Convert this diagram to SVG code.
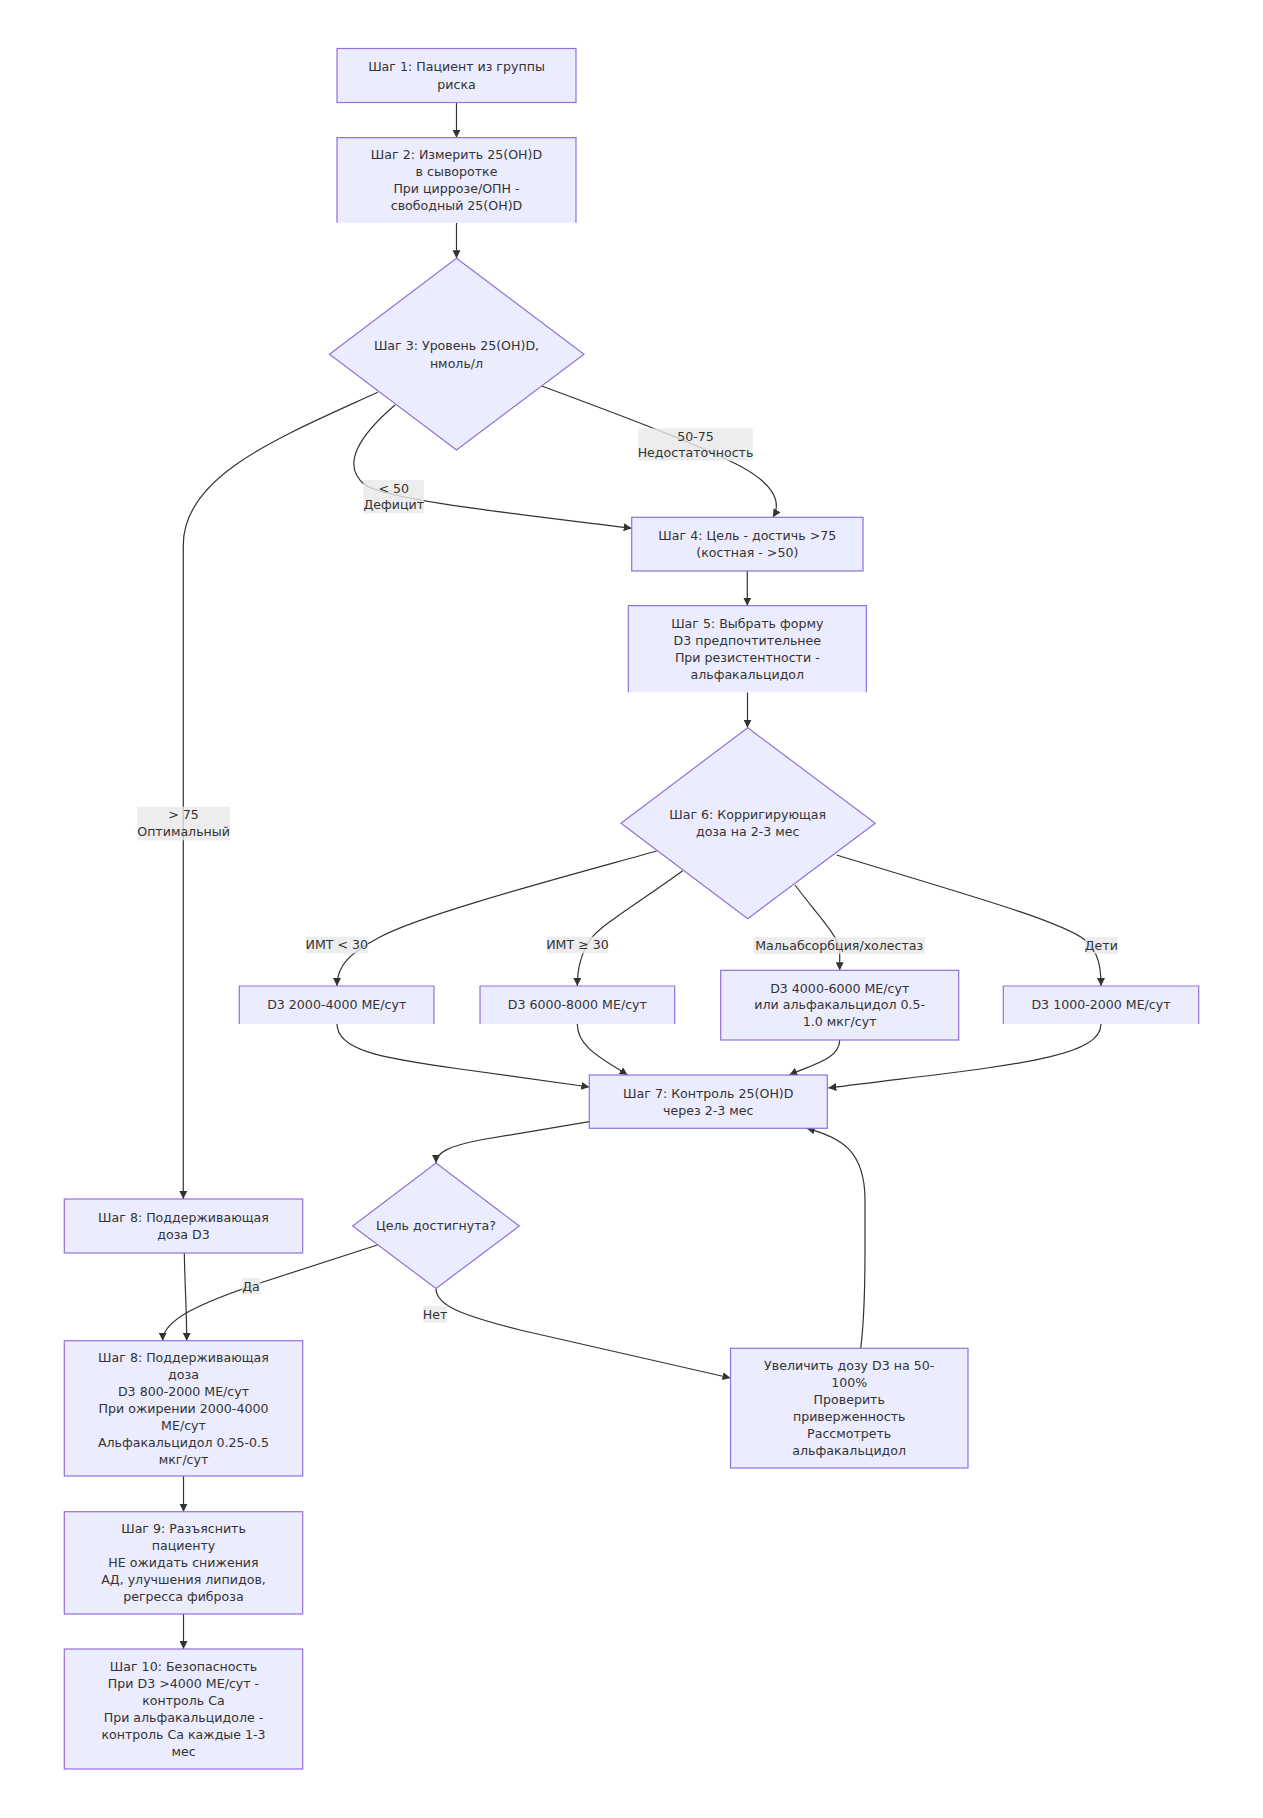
<svg xmlns="http://www.w3.org/2000/svg" width="1263" height="1818" viewBox="0 0 1263 1818">
<defs>
<marker id="arr" viewBox="0 0 10 10" refX="10" refY="5" markerUnits="userSpaceOnUse" markerWidth="8" markerHeight="8" orient="auto">
<path d="M0,0 L10,5 L0,10 z" fill="#333333"/>
</marker>
</defs>
<style>
.node{fill:#ECECFF;stroke:#9370DB;stroke-width:1.2}
.nofill{fill:#ECECFF;stroke:none}
.bord{fill:none;stroke:#9370DB;stroke-width:1.2}
.edge{fill:none;stroke:#333333;stroke-width:1.2;marker-end:url(#arr)}
.lbl{fill:#e8e8e8;fill-opacity:0.8}
text{font-family:"DejaVu Sans","Liberation Sans",sans-serif;font-size:12.6px;fill:#333333;text-anchor:middle}
</style>
<rect width="1263" height="1818" fill="#ffffff"/>
<g id="connectors">
<path class="edge" d="M456.5,102.5 V137.7"/>
<path class="edge" d="M456.5,222.7 V258.3"/>
<path class="edge" d="M377.7,392.3 C280,437 183.3,475 183.3,545 V1199"/>
<path class="edge" d="M395,405 C360,435 340,465 365,485 C390,500 500,512 631.7,528.3"/>
<path class="edge" d="M541.7,386 C620,415 700,445 740,466 C770,482 783,500 773,517.3"/>
<path class="edge" d="M747.3,571 V605.7"/>
<path class="edge" d="M747.5,692.3 V727.7"/>
<path class="edge" d="M656.7,851 C560,878 420,915 380,937 C350,953 337,965 337,986"/>
<path class="edge" d="M682.7,870.7 C640,902 600,925 590,940 C580,955 577.3,970 577.3,986"/>
<path class="edge" d="M795,885 C815,912 838,935 839.7,950 V970.3"/>
<path class="edge" d="M836.7,855 C950,890 1060,920 1085,940 C1098,952 1101,965 1101,986"/>
<path class="edge" d="M337,1024 C337,1050 380,1058 460,1069 L589.3,1087"/>
<path class="edge" d="M577.3,1024 C577.3,1048 605,1060 627.5,1075"/>
<path class="edge" d="M839.7,1040 C839.7,1060 810,1065 789.3,1075"/>
<path class="edge" d="M1101,1024 C1101,1060 1000,1066 828.3,1088"/>
<path class="edge" d="M589.3,1121.7 L480,1140 C450,1146 436,1152 436,1163"/>
<path class="edge" d="M184.3,1253 C185,1290 186.7,1310 186.7,1340.7"/>
<path class="edge" d="M377.3,1245 L260,1283 C200,1303 162.7,1320 162.7,1340.7"/>
<path class="edge" d="M436,1288.5 C436,1305 460,1315 520,1330 L730.5,1378"/>
<path class="edge" d="M860.7,1348.3 C863,1330 865,1310 865,1250 L865,1200 C865,1150 840,1137 806.7,1128.3"/>
<path class="edge" d="M183.5,1476 V1511.7"/>
<path class="edge" d="M183.5,1614 V1649"/>
</g>
<g id="edge-labels">
<g id="lbl-50-75"><rect class="lbl" x="638.3" y="428.3" width="114.4" height="32.4"/><text x="695.5"><tspan x="695.5" y="440.6">50-75</tspan><tspan x="695.5" y="457.2">Недостаточность</tspan></text></g>
<g id="lbl-lt50"><rect class="lbl" x="363.3" y="480" width="60.7" height="33.3"/><text><tspan x="393.7" y="492.7">&lt; 50</tspan><tspan x="393.7" y="509.4">Дефицит</tspan></text></g>
<g id="lbl-gt75"><rect class="lbl" x="137.3" y="806.7" width="92.7" height="33.6"/><text><tspan x="183.6" y="819.1">&gt; 75</tspan><tspan x="183.6" y="835.7">Оптимальный</tspan></text></g>
<g id="lbl-imt1"><rect class="lbl" x="306" y="936.7" width="61.7" height="16.6"/><text x="336.8" y="949.4">ИМТ &lt; 30</text></g>
<g id="lbl-imt2"><rect class="lbl" x="547" y="936.7" width="61" height="16.6"/><text x="577.5" y="949.4">ИМТ ≥ 30</text></g>
<g id="lbl-malabs"><rect class="lbl" x="753.3" y="937.2" width="171.7" height="16.6"/><text x="839.2" y="949.9">Мальабсорбция/холестаз</text></g>
<g id="lbl-deti"><rect class="lbl" x="1085" y="937.2" width="32.7" height="16.6"/><text x="1101.3" y="949.9">Дети</text></g>
<g id="lbl-da"><rect class="lbl" x="241.7" y="1278" width="18.8" height="16.6"/><text x="251" y="1290.6">Да</text></g>
<g id="lbl-net"><rect class="lbl" x="423.3" y="1306" width="23.4" height="16.6"/><text x="435" y="1318.6">Нет</text></g>
</g>
<g id="n1"><rect class="node" x="337" y="48.5" width="239" height="54"/><text><tspan x="456.5" y="71.1">Шаг 1: Пациент из группы</tspan><tspan x="456.5" y="88.7">риска</tspan></text></g>
<g id="n2"><rect class="nofill" x="337" y="137.7" width="239" height="85"/><path class="bord" d="M337,222.7 V137.7 H576 V222.7"/><text><tspan x="456.5" y="159.3">Шаг 2: Измерить 25(OH)D</tspan><tspan x="456.5" y="176.2">в сыворотке</tspan><tspan x="456.5" y="193.1">При циррозе/ОПН -</tspan><tspan x="456.5" y="210">свободный 25(OH)D</tspan></text></g>
<g id="d3"><polygon class="node" points="456.5,258.3 584,354.3 456.5,450 329.5,354.3"/><text><tspan x="456.5" y="350.1">Шаг 3: Уровень 25(OH)D,</tspan><tspan x="456.5" y="367.7">нмоль/л</tspan></text></g>
<g id="n4"><rect class="node" x="631.7" y="517.3" width="231.3" height="53.7"/><text><tspan x="747.3" y="539.9">Шаг 4: Цель - достичь &gt;75</tspan><tspan x="747.3" y="556.9">(костная - &gt;50)</tspan></text></g>
<g id="n5"><rect class="nofill" x="628.3" y="605.7" width="238" height="86.6"/><path class="bord" d="M628.3,692.3 V605.7 H866.3 V692.3"/><text><tspan x="747.3" y="628.4">Шаг 5: Выбрать форму</tspan><tspan x="747.3" y="645.4">D3 предпочтительнее</tspan><tspan x="747.3" y="662.4">При резистентности -</tspan><tspan x="747.3" y="679.4">альфакальцидол</tspan></text></g>
<g id="d6"><polygon class="node" points="747.7,727.7 875.3,823.3 747.7,918.7 621,823.3"/><text><tspan x="747.7" y="819.4">Шаг 6: Корригирующая</tspan><tspan x="747.7" y="836.1">доза на 2-3 мес</tspan></text></g>
<g id="b1"><rect class="nofill" x="239.3" y="986" width="194.7" height="38"/><path class="bord" d="M239.3,1024 V986 H434 V1024"/><text x="336.7" y="1009.4">D3 2000-4000 МЕ/сут</text></g>
<g id="b2"><rect class="nofill" x="480" y="986" width="194.7" height="38"/><path class="bord" d="M480,1024 V986 H674.7 V1024"/><text x="577.3" y="1009.4">D3 6000-8000 МЕ/сут</text></g>
<g id="b3"><rect class="node" x="720.7" y="970.3" width="238" height="69.7"/><text><tspan x="839.7" y="992.5">D3 4000-6000 МЕ/сут</tspan><tspan x="839.7" y="1009.4">или альфакальцидол 0.5-</tspan><tspan x="839.7" y="1026.3">1.0 мкг/сут</tspan></text></g>
<g id="b4"><rect class="nofill" x="1003.3" y="986" width="195.4" height="38"/><path class="bord" d="M1003.3,1024 V986 H1198.7 V1024"/><text x="1101" y="1009.4">D3 1000-2000 МЕ/сут</text></g>
<g id="n7"><rect class="node" x="589.3" y="1075" width="238" height="53.3"/><text><tspan x="708.3" y="1097.6">Шаг 7: Контроль 25(OH)D</tspan><tspan x="708.3" y="1114.5">через 2-3 мес</tspan></text></g>
<g id="dg"><polygon class="node" points="436,1163 519.3,1226 436,1288.5 352.7,1226"/><text x="436" y="1230.4">Цель достигнута?</text></g>
<g id="n8a"><rect class="node" x="64.3" y="1199" width="238.4" height="54"/><text><tspan x="183.5" y="1221.9">Шаг 8: Поддерживающая</tspan><tspan x="183.5" y="1238.9">доза D3</tspan></text></g>
<g id="n8b"><rect class="node" x="64.3" y="1340.7" width="238.4" height="135.3"/><text><tspan x="183.5" y="1362.1">Шаг 8: Поддерживающая</tspan><tspan x="183.5" y="1379">доза</tspan><tspan x="183.5" y="1395.9">D3 800-2000 МЕ/сут</tspan><tspan x="183.5" y="1412.8">При ожирении 2000-4000</tspan><tspan x="183.5" y="1429.7">МЕ/сут</tspan><tspan x="183.5" y="1446.6">Альфакальцидол 0.25-0.5</tspan><tspan x="183.5" y="1463.5">мкг/сут</tspan></text></g>
<g id="inc"><rect class="node" x="730.5" y="1348.3" width="237.5" height="119.7"/><text><tspan x="849.2" y="1370.4">Увеличить дозу D3 на 50-</tspan><tspan x="849.2" y="1387.3">100%</tspan><tspan x="849.2" y="1404.2">Проверить</tspan><tspan x="849.2" y="1421.1">приверженность</tspan><tspan x="849.2" y="1438">Рассмотреть</tspan><tspan x="849.2" y="1454.9">альфакальцидол</tspan></text></g>
<g id="n9"><rect class="node" x="64.3" y="1511.7" width="238.4" height="102.3"/><text><tspan x="183.5" y="1533.4">Шаг 9: Разъяснить</tspan><tspan x="183.5" y="1550.4">пациенту</tspan><tspan x="183.5" y="1567.4">НЕ ожидать снижения</tspan><tspan x="183.5" y="1584.4">АД, улучшения липидов,</tspan><tspan x="183.5" y="1601.4">регресса фиброза</tspan></text></g>
<g id="n10"><rect class="node" x="64.3" y="1649" width="238.4" height="120"/><text><tspan x="183.5" y="1671.1">Шаг 10: Безопасность</tspan><tspan x="183.5" y="1688">При D3 &gt;4000 МЕ/сут -</tspan><tspan x="183.5" y="1704.9">контроль Ca</tspan><tspan x="183.5" y="1721.8">При альфакальцидоле -</tspan><tspan x="183.5" y="1738.7">контроль Ca каждые 1-3</tspan><tspan x="183.5" y="1755.6">мес</tspan></text></g>
</svg>
